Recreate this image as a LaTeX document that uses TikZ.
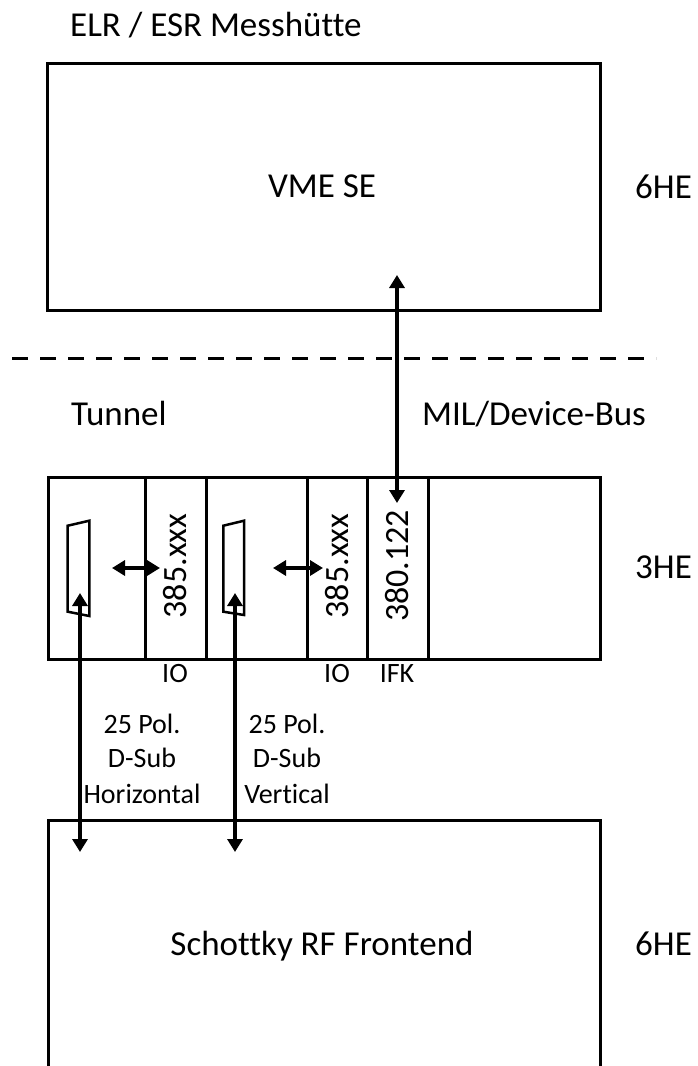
\documentclass[tikz,border=0pt]{standalone}
\usepackage{fontspec}
\setmainfont{Carlito}[Ligatures=CommonOff]
\usetikzlibrary{arrows.meta}
\begin{document}
\begin{tikzpicture}[x=1pt,y=-1pt,
  box/.style={draw, line width=3pt, inner sep=0pt, anchor=north west},
  big/.style={font=\fontsize{35}{42}\selectfont, inner sep=0pt},
  mid/.style={font=\fontsize{34}{40}\selectfont, inner sep=0pt},
  small/.style={font=\fontsize{28}{35}\selectfont, inner sep=0pt},
  arr/.style={line width=4pt, {Triangle[length=13pt,width=15pt]}-{Triangle[length=13pt,width=15pt]}},
  plug/.style={draw, line width=2.5pt, line join=miter},
  divider/.style={line width=3pt}]
\useasboundingbox (0,0) rectangle (697,1066);
\clip (0,0) rectangle (697,1066);

% titles
\node[big, anchor=base west] (title) at (70,36) {ELR / ESR Messhütte};

% VME box
\node[box, minimum width=553pt, minimum height=247pt] (vme) at (46,62) {};
\node[big] (vmetxt) at (322,186) {VME SE};
\node[big, anchor=base west] (he1) at (635,198) {6HE};

% dashed separator
\draw[line width=3pt, dash pattern=on 16pt off 12pt] (12,358) -- (656,358);

\node[big, anchor=base west] (tunnel) at (71,425) {Tunnel};
\node[big, anchor=base west] (mil) at (422,425) {MIL/Device-Bus};

% crate
\node[box, minimum width=552pt, minimum height=182pt] (crate) at (47,476) {};
\foreach \xx in {145,206,307,367,428}
  \draw[divider] (\xx,476) -- (\xx,658);

\node[mid, rotate=90] (io1) at (175,566) {385.xxx};
\node[mid, rotate=90] (io2) at (337,566) {385.xxx};
\node[mid, rotate=90] (ifk) at (397,566) {380.122};

\node[small, anchor=base] (io1l) at (175,682) {IO};
\node[small, anchor=base] (io2l) at (337,682) {IO};
\node[small, anchor=base] (ifkl) at (397,682) {IFK};

\node[big, anchor=base west] (he2) at (635,578) {3HE};

% D-Sub connectors
\coordinate (p1a) at (67.7,525.7);
\coordinate (p1b) at (89.3,520.7);
\coordinate (p1c) at (89.3,616);
\coordinate (p1d) at (67.7,611.7);
\draw[plug] (p1a) -- (p1b) -- (p1c) -- (p1d) -- cycle;
\coordinate (p2a) at (223.3,525.7);
\coordinate (p2b) at (244,520.7);
\coordinate (p2c) at (244,615);
\coordinate (p2d) at (223.3,611.7);
\draw[plug] (p2a) -- (p2b) -- (p2c) -- (p2d) -- cycle;

% arrows
\coordinate (milA) at (397,275);
\coordinate (milB) at (397,503);
\draw[arr] (milA) -- (milB);

\coordinate (h1a) at (112,568);
\coordinate (h1b) at (160,568);
\draw[arr] (h1a) -- (h1b);
\coordinate (h2a) at (273,568);
\coordinate (h2b) at (323,568);
\draw[arr] (h2a) -- (h2b);

\coordinate (v1a) at (80,593);
\coordinate (v1b) at (80,852);
\draw[arr] (v1a) -- (v1b);
\coordinate (v2a) at (235,593);
\coordinate (v2b) at (235,852);
\draw[arr] (v2a) -- (v2b);

% cable labels
\node[small, anchor=base] (c1a) at (142,733) {25 Pol.};
\node[small, anchor=base] (c1b) at (142,767) {D-Sub};
\node[small, anchor=base] (c1c) at (142,803) {Horizontal};
\node[small, anchor=base] (c2a) at (287,733) {25 Pol.};
\node[small, anchor=base] (c2b) at (287,767) {D-Sub};
\node[small, anchor=base] (c2c) at (287,803) {Vertical};

% Schottky box (open at bottom)
\node[box, minimum width=552pt, minimum height=300pt] (rf) at (47,819) {};
\node[big, anchor=base] (rftxt) at (322,955) {Schottky RF Frontend};
\node[big, anchor=base west] (he3) at (635,955) {6HE};
\end{tikzpicture}
\end{document}
